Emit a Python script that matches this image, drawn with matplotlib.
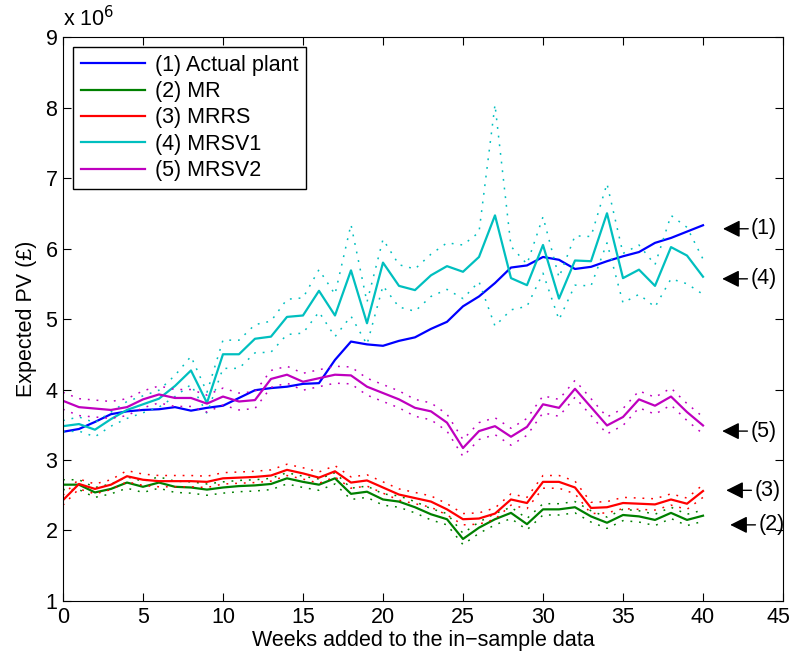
import numpy as np
import matplotlib
matplotlib.use('Agg')
import matplotlib.pyplot as plt
from matplotlib.transforms import ScaledTranslation

plt.rcParams['font.family'] = ['Liberation Sans', 'DejaVu Sans']

weeks = np.arange(41)

# values in units of 1e6
actual = [3.40, 3.44, 3.54, 3.65, 3.69, 3.71, 3.72, 3.75, 3.70, 3.74, 3.77,
          3.88, 3.99, 4.02, 4.04, 4.08, 4.09, 4.42, 4.68, 4.64, 4.62,
          4.69, 4.74, 4.86, 4.96, 5.18, 5.32, 5.51, 5.73, 5.76, 5.88,
          5.84, 5.71, 5.74, 5.82, 5.89, 5.95, 6.08, 6.15, 6.24, 6.33]
mr = [2.65, 2.65, 2.54, 2.59, 2.68, 2.62, 2.68, 2.62, 2.61, 2.58, 2.61,
      2.63, 2.64, 2.66, 2.74, 2.69, 2.65, 2.74, 2.52, 2.55, 2.44,
      2.41, 2.33, 2.23, 2.16, 1.88, 2.04, 2.16, 2.25, 2.09, 2.30,
      2.30, 2.33, 2.20, 2.11, 2.22, 2.20, 2.15, 2.25, 2.15, 2.21]
mrrs = [2.43, 2.66, 2.59, 2.65, 2.77, 2.72, 2.70, 2.70, 2.70, 2.69, 2.74,
        2.75, 2.76, 2.78, 2.86, 2.81, 2.75, 2.84, 2.68, 2.71, 2.61,
        2.51, 2.46, 2.41, 2.30, 2.16, 2.17, 2.24, 2.44, 2.39, 2.69,
        2.69, 2.61, 2.32, 2.33, 2.39, 2.38, 2.37, 2.44, 2.38, 2.56]
mrsv1 = [3.48, 3.51, 3.43, 3.58, 3.71, 3.79, 3.87, 4.05, 4.27, 3.81, 4.50,
         4.50, 4.72, 4.75, 5.03, 5.05, 5.40, 5.05, 5.69, 4.94, 5.80,
         5.47, 5.41, 5.62, 5.75, 5.67, 5.88, 6.47, 5.58, 5.48, 6.05,
         5.29, 5.83, 5.82, 6.50, 5.58, 5.70, 5.47, 6.02, 5.90, 5.60]
mrsv2 = [3.84, 3.75, 3.73, 3.71, 3.75, 3.86, 3.93, 3.88, 3.88, 3.80, 3.90,
         3.83, 3.85, 4.15, 4.21, 4.11, 4.16, 4.21, 4.20, 4.04, 3.95,
         3.86, 3.74, 3.69, 3.53, 3.17, 3.41, 3.48, 3.33, 3.47, 3.79,
         3.74, 4.01, 3.75, 3.49, 3.61, 3.86, 3.77, 3.90, 3.68, 3.49]

# half widths of the dotted bands
mr_hw = [0.07, 0.07, 0.07, 0.07, 0.08, 0.08, 0.08, 0.08, 0.08, 0.08, 0.08,
         0.08, 0.08, 0.08, 0.08, 0.08, 0.08, 0.08, 0.08, 0.08, 0.08,
         0.08, 0.08, 0.08, 0.08, 0.08, 0.08, 0.08, 0.08, 0.08, 0.08,
         0.08, 0.08, 0.08, 0.08, 0.08, 0.08, 0.08, 0.08, 0.08, 0.08]
mrrs_hw = [0.07, 0.07, 0.07, 0.07, 0.08, 0.08, 0.08, 0.08, 0.08, 0.08, 0.08,
           0.08, 0.08, 0.08, 0.08, 0.08, 0.08, 0.08, 0.08, 0.08, 0.08,
           0.08, 0.08, 0.08, 0.08, 0.08, 0.08, 0.08, 0.08, 0.08, 0.09,
           0.09, 0.09, 0.08, 0.08, 0.08, 0.08, 0.08, 0.08, 0.08, 0.09]
mrsv1_hw = [0.08, 0.10, 0.10, 0.10, 0.12, 0.12, 0.12, 0.15, 0.20, 0.15, 0.20,
            0.20, 0.20, 0.22, 0.25, 0.25, 0.30, 0.30, 0.65, 0.30, 0.33,
            0.30, 0.30, 0.30, 0.33, 0.38, 0.35, 1.57, 0.45, 0.30, 0.40,
            0.30, 0.35, 0.35, 0.42, 0.35, 0.35, 0.30, 0.45, 0.40, 0.25]
mrsv2_hw = [0.12, 0.12, 0.12, 0.12, 0.12, 0.12, 0.12, 0.12, 0.12, 0.12, 0.12,
            0.12, 0.12, 0.12, 0.12, 0.12, 0.12, 0.12, 0.12, 0.12, 0.12,
            0.12, 0.12, 0.12, 0.12, 0.12, 0.12, 0.12, 0.12, 0.12, 0.12,
            0.12, 0.12, 0.12, 0.12, 0.12, 0.12, 0.12, 0.12, 0.12, 0.12]

labels = ['(1) Actual plant', '(2) MR', '(3) MRRS', '(4) MRSV1', '(5) MRSV2']
colors = ['#0000ff', '#008000', '#ff0000', '#00bfbf', '#bf00bf']
tags = ['(1)', '(2)', '(3)', '(4)', '(5)']
tag_y = [6.28, 2.08, 2.57, 5.57, 3.41]
tag_x = [41.25, 41.7, 41.45, 41.2, 41.2]

fs = 15.5

fig = plt.figure(figsize=(7.93, 6.6), dpi=100)
ax = fig.add_axes([0.0794, 0.0894, 0.908, 0.8545])

series = [actual, mr, mrrs, mrsv1, mrsv2]
bands = [None, mr_hw, mrrs_hw, mrsv1_hw, mrsv2_hw]
for vals, hw, c, lab in zip(series, bands, colors, labels):
    vals = np.array(vals)
    ax.plot(weeks, vals, color=c, lw=1.6, label=lab)
    if hw is not None:
        hw = np.array(hw)
        ax.plot(weeks, vals + hw, color=c, lw=1.1, ls=(0, (1.2, 4.5)))
        ax.plot(weeks, vals - hw, color=c, lw=1.1, ls=(0, (1.2, 4.5)))

for t, tx, ty in zip(tags, tag_x, tag_y):
    ax.annotate(t, xy=(tx, ty), xytext=(tx + 1.75, ty), fontsize=fs,
                va='center', ha='left',
                arrowprops=dict(arrowstyle='-|>', color='k', lw=1,
                                mutation_scale=26, shrinkA=0, shrinkB=0))

ax.set_xlim(0, 45)
ax.set_ylim(1, 9)
ax.set_xticks(np.arange(0, 46, 5))
ax.set_yticks(np.arange(1, 10, 1))
ax.tick_params(direction='in', top=True, right=True, length=6, labelsize=fs,
               pad=4)
# keep the last x tick label inside the figure
last = ax.get_xticklabels()[-1]
last.set_transform(last.get_transform()
                   + ScaledTranslation(-5 / 100, 0, fig.dpi_scale_trans))
ax.set_xlabel('Weeks added to the in\u2212sample data', fontsize=fs, labelpad=2)
ax.set_ylabel('Expected PV (\u00a3)', fontsize=fs, labelpad=6)
ax.text(0, 1.01, 'x 10$^{6}$', transform=ax.transAxes, fontsize=fs,
        ha='left', va='bottom')

leg = ax.legend(loc='upper left', bbox_to_anchor=(0.014, 0.982),
                borderaxespad=0, fontsize=fs, fancybox=False,
                edgecolor='k', framealpha=1, handlelength=3.0,
                labelspacing=0.25, handletextpad=0.45, borderpad=0.35)
leg.get_frame().set_linewidth(1)

fig.savefig('out.png', dpi=100)
